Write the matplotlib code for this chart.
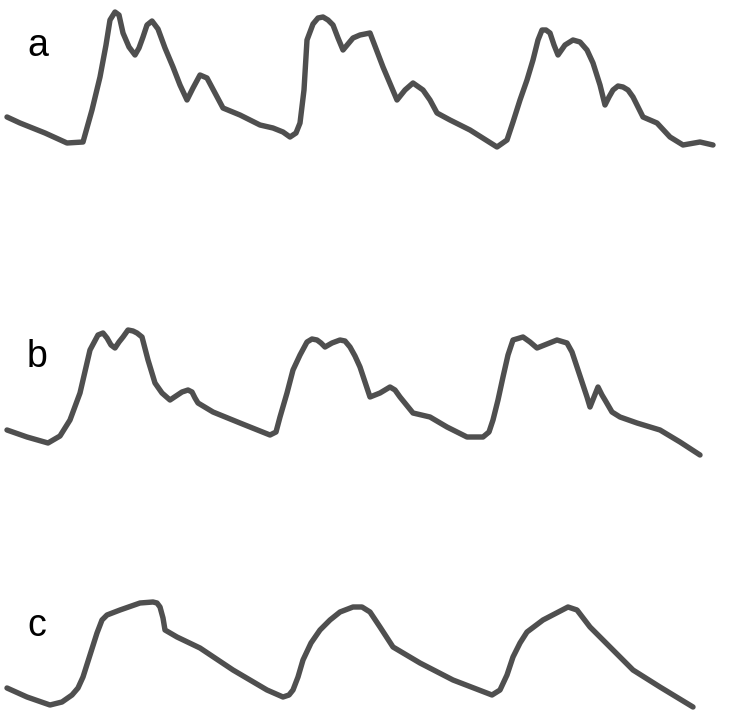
import matplotlib
matplotlib.use("Agg")
import matplotlib.pyplot as plt

# Traces (x, y in image pixel units, y downward)
a_x = [7, 20, 45, 67, 83, 92, 100, 106, 110, 115, 119, 123, 129, 135, 139, 143, 147, 152, 158, 165, 173, 180, 187, 193, 200, 207, 215, 223, 240, 260, 273, 283, 290, 296, 300, 304, 307, 313, 318, 323, 328, 333, 338, 343, 348, 353, 360, 370, 383, 397, 405, 413, 423, 430, 437, 450, 470, 497, 507, 513, 520, 527, 533, 538, 542, 546, 550, 554, 558, 565, 573, 580, 587, 593, 600, 605, 609, 613, 618, 623, 628, 633, 643, 657, 670, 683, 700, 713]
a_y = [117, 123, 133, 143, 142, 110, 77, 45, 20, 12, 15, 33, 47, 55, 48, 37, 25, 21, 29, 48, 67, 85, 100, 88, 75, 78, 93, 108, 115, 125, 128, 132, 137, 133, 123, 90, 40, 24, 18, 17, 20, 25, 38, 50, 44, 38, 35, 33, 67, 100, 90, 83, 90, 100, 113, 120, 130, 147, 140, 122, 100, 80, 60, 40, 30, 30, 33, 45, 55, 45, 40, 42, 50, 63, 85, 105, 97, 90, 86, 87, 90, 97, 117, 123, 137, 145, 142, 145]

b_x = [7, 27, 48, 60, 70, 80, 90, 98, 103, 107, 111, 115, 119, 123, 128, 133, 137, 142, 148, 155, 162, 170, 176, 182, 188, 192, 195, 198, 213, 240, 270, 276, 280, 287, 293, 300, 307, 312, 317, 321, 325, 332, 340, 345, 350, 355, 360, 370, 380, 390, 395, 400, 413, 430, 447, 467, 483, 489, 493, 498, 503, 508, 513, 523, 530, 537, 547, 557, 567, 572, 577, 582, 587, 590, 594, 598, 602, 605, 612, 620, 637, 660, 680, 700]
b_y = [430, 437, 443, 436, 420, 393, 350, 335, 333, 338, 345, 348, 342, 337, 330, 331, 333, 337, 360, 383, 393, 400, 396, 392, 390, 392, 398, 403, 412, 423, 435, 432, 417, 393, 370, 355, 342, 339, 340, 343, 347, 343, 340, 341, 347, 356, 367, 397, 393, 387, 390, 397, 413, 417, 427, 437, 437, 432, 420, 400, 377, 355, 340, 337, 342, 348, 344, 340, 343, 352, 367, 382, 397, 407, 397, 387, 395, 400, 412, 417, 423, 430, 442, 455]

c_x = [7, 27, 50, 62, 72, 78, 83, 90, 97, 102, 107, 120, 140, 153, 157, 160, 163, 165, 177, 200, 233, 267, 283, 289, 293, 298, 303, 311, 320, 330, 340, 353, 362, 370, 380, 393, 420, 453, 492, 500, 507, 513, 520, 527, 543, 568, 577, 590, 610, 633, 660, 693]
c_y = [688, 697, 705, 702, 695, 688, 677, 655, 633, 620, 615, 610, 603, 602, 603, 607, 618, 630, 637, 648, 670, 690, 697, 695, 690, 677, 660, 643, 630, 620, 612, 607, 607, 612, 627, 647, 663, 680, 695, 690, 675, 657, 643, 632, 620, 607, 610, 627, 647, 670, 687, 707]

labels = ["a", "b", "c"]
label_x = [27, 27, 27]
label_y = [56, 367, 636]

fig = plt.figure(figsize=(7.41, 7.15), dpi=100)
ax = fig.add_axes([0, 0, 1, 1])
ax.set_xlim(0, 741)
ax.set_ylim(715, 0)
ax.axis("off")

line_color = "#4f4f4f"
for xs, ys in [(a_x, a_y), (b_x, b_y), (c_x, c_y)]:
    ax.plot(xs, ys, color=line_color, linewidth=3.9, solid_joinstyle="round",
            solid_capstyle="round")

for t, x, y in zip(labels, label_x, label_y):
    ax.text(x, y, t, fontsize=27, family=["Liberation Sans", "DejaVu Sans"],
            color="black", ha="left", va="baseline")

fig.savefig("out.png", dpi=100, facecolor="white")
